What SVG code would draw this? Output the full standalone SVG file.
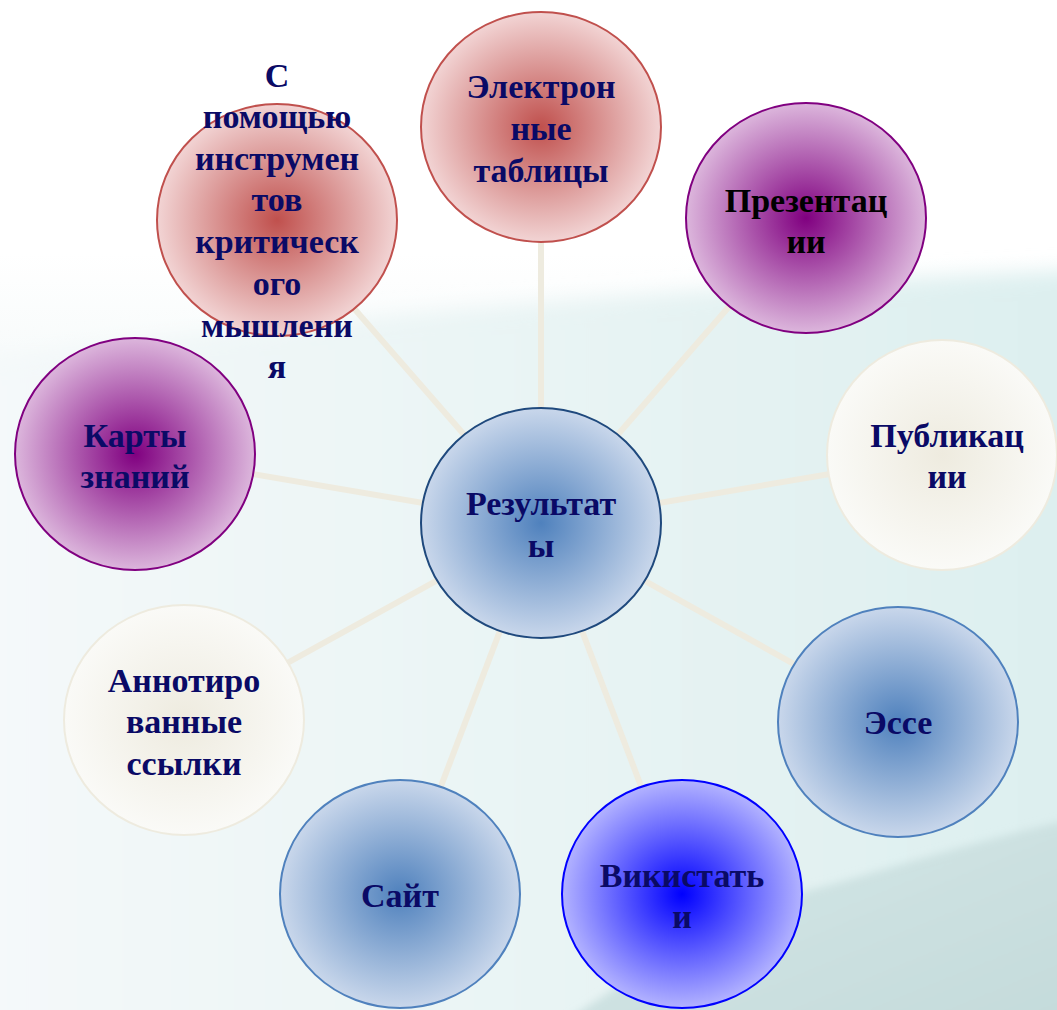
<svg xmlns="http://www.w3.org/2000/svg" width="1057" height="1010" viewBox="0 0 1057 1010">
<defs>
  <linearGradient id="bgTop" x1="0" y1="0" x2="0" y2="1">
    <stop offset="0" stop-color="#ffffff"/>
    <stop offset="0.25" stop-color="#ffffff"/>
    <stop offset="0.4" stop-color="#f4f9f9"/>
    <stop offset="1" stop-color="#eef5f6"/>
  </linearGradient>
  <linearGradient id="band" x1="0" y1="0" x2="1" y2="0">
    <stop offset="0" stop-color="#f5f9fa"/>
    <stop offset="0.5" stop-color="#e9f4f4"/>
    <stop offset="1" stop-color="#dcefef"/>
  </linearGradient>
  <linearGradient id="dark" x1="0" y1="0" x2="1" y2="1">
    <stop offset="0" stop-color="#d6e8e8"/>
    <stop offset="1" stop-color="#c3dada"/>
  </linearGradient>
  <filter id="soft" x="-10%" y="-10%" width="120%" height="120%">
    <feGaussianBlur stdDeviation="10"/>
  </filter>
  <filter id="soft2" x="-10%" y="-10%" width="120%" height="120%">
    <feGaussianBlur stdDeviation="4"/>
  </filter>
  <radialGradient id="gRed" cx="0.5" cy="0.5" r="0.5">
    <stop offset="0" stop-color="#c0504d"/>
    <stop offset="1" stop-color="#f2d4d4"/>
  </radialGradient>
  <radialGradient id="gPurple" cx="0.5" cy="0.5" r="0.5">
    <stop offset="0" stop-color="#800080"/>
    <stop offset="1" stop-color="#dcb6dc"/>
  </radialGradient>
  <radialGradient id="gIvory" cx="0.5" cy="0.5" r="0.5">
    <stop offset="0" stop-color="#eeebdf"/>
    <stop offset="1" stop-color="#fafaf7"/>
  </radialGradient>
  <radialGradient id="gBlue" cx="0.5" cy="0.5" r="0.5">
    <stop offset="0" stop-color="#4f81bd"/>
    <stop offset="1" stop-color="#c9d7eb"/>
  </radialGradient>
  <radialGradient id="gBright" cx="0.5" cy="0.5" r="0.5">
    <stop offset="0" stop-color="#0000ff"/>
    <stop offset="1" stop-color="#b3b3ff"/>
  </radialGradient>
  <style>
    .lbl { font-family: "Liberation Serif", "Times New Roman", serif; font-weight: bold; font-size: 34px; fill: #0a0a66; text-anchor: middle; }
    .blk { fill: #000000; }
    .conn line { stroke: #eeebdf; stroke-width: 6; }
    .red { fill: url(#gRed); stroke: #c0504d; stroke-width: 2; }
    .purple { fill: url(#gPurple); stroke: #800080; stroke-width: 2; }
    .ivory { fill: url(#gIvory); stroke: #eeebdf; stroke-width: 2; }
    .blue { fill: url(#gBlue); stroke: #4f81bd; stroke-width: 2; }
    .center { fill: url(#gBlue); stroke: #1f497d; stroke-width: 2; }
    .bright { fill: url(#gBright); stroke: #0000ff; stroke-width: 2; }
  </style>
</defs>

<g id="background">
  <rect x="0" y="0" width="1057" height="1010" fill="url(#bgTop)"/>
  <path d="M -30 360 C 200 330 600 290 1090 270 L 1090 1040 L -30 1040 Z" fill="url(#band)" filter="url(#soft)"/>
  <path d="M 540 1040 C 650 960 760 900 830 885 C 900 865 980 840 1090 815 L 1090 1040 Z" fill="url(#dark)" filter="url(#soft2)"/>
</g>

<g id="connectors" class="conn">
  <line x1="541" y1="523" x2="541" y2="127"/>
  <line x1="541" y1="523" x2="806" y2="218"/>
  <line x1="541" y1="523" x2="942" y2="455"/>
  <line x1="541" y1="523" x2="898" y2="722"/>
  <line x1="541" y1="523" x2="682" y2="894"/>
  <line x1="541" y1="523" x2="400" y2="894"/>
  <line x1="541" y1="523" x2="184" y2="720"/>
  <line x1="541" y1="523" x2="135" y2="454"/>
  <line x1="541" y1="523" x2="277" y2="220"/>
</g>

<g id="node-tables">
  <ellipse class="red" cx="541" cy="127" rx="120" ry="115"/>
  <text class="lbl"><tspan x="541" y="98">Электрон</tspan><tspan x="541" y="140">ные</tspan><tspan x="541" y="182">таблицы</tspan></text>
</g>

<g id="node-presentations">
  <ellipse class="purple" cx="806" cy="218" rx="120" ry="115"/>
  <text class="lbl blk"><tspan x="806" y="212">Презентац</tspan><tspan x="806" y="253">ии</tspan></text>
</g>

<g id="node-publications">
  <ellipse class="ivory" cx="942" cy="455" rx="115" ry="115"/>
  <text class="lbl"><tspan x="947" y="447">Публикац</tspan><tspan x="947" y="488">ии</tspan></text>
</g>

<g id="node-essay">
  <ellipse class="blue" cx="898" cy="722" rx="120" ry="115"/>
  <text class="lbl" x="898" y="734">Эссе</text>
</g>

<g id="node-wiki">
  <ellipse class="bright" cx="682" cy="894" rx="120" ry="114"/>
  <text class="lbl"><tspan x="682" y="887">Викистать</tspan><tspan x="682" y="928">и</tspan></text>
</g>

<g id="node-site">
  <ellipse class="blue" cx="400" cy="894" rx="120" ry="114"/>
  <text class="lbl" x="400" y="907">Сайт</text>
</g>

<g id="node-annotated">
  <ellipse class="ivory" cx="184" cy="720" rx="120" ry="115"/>
  <text class="lbl"><tspan x="184" y="692">Аннотиро</tspan><tspan x="184" y="733">ванные</tspan><tspan x="184" y="775">ссылки</tspan></text>
</g>

<g id="node-maps">
  <ellipse class="purple" cx="135" cy="454" rx="120" ry="116"/>
  <text class="lbl"><tspan x="135" y="447">Карты</tspan><tspan x="135" y="488">знаний</tspan></text>
</g>

<g id="node-critical">
  <ellipse class="red" cx="277" cy="220" rx="120" ry="116"/>
  <text class="lbl"><tspan x="277" y="87">С</tspan><tspan x="277" y="128">помощью</tspan><tspan x="277" y="170">инструмен</tspan><tspan x="277" y="211">тов</tspan><tspan x="277" y="253">критическ</tspan><tspan x="277" y="295">ого</tspan><tspan x="277" y="337">мышлени</tspan><tspan x="277" y="378">я</tspan></text>
</g>

<g id="node-results">
  <ellipse class="center" cx="541" cy="523" rx="120" ry="115"/>
  <text class="lbl"><tspan x="541" y="515">Результат</tspan><tspan x="541" y="557">ы</tspan></text>
</g>
</svg>
